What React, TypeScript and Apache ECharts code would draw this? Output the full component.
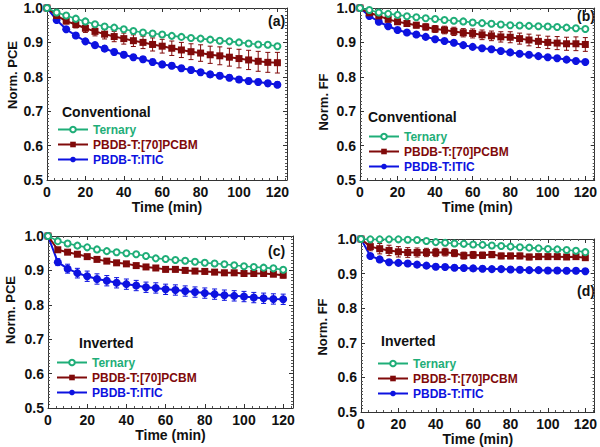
import React, { useEffect, useRef } from "react";
import * as echarts from "echarts";

const times = [0, 5, 10, 15, 20, 25, 30, 35, 40, 45, 50, 55, 60, 65, 70, 75, 80, 85, 90, 95, 100, 105, 110, 115, 120];

// (a) Conventional, Norm. PCE
const aTernary = [1.0, 0.987, 0.978, 0.969, 0.961, 0.953, 0.946, 0.943, 0.938, 0.933, 0.929, 0.926, 0.923, 0.919, 0.916, 0.913, 0.911, 0.908, 0.905, 0.903, 0.9, 0.897, 0.894, 0.893, 0.889];
const aPcbm = [1.0, 0.978, 0.962, 0.952, 0.941, 0.932, 0.924, 0.917, 0.911, 0.905, 0.9, 0.894, 0.889, 0.883, 0.878, 0.873, 0.869, 0.864, 0.861, 0.857, 0.853, 0.849, 0.845, 0.842, 0.841];
const aPcbmErr = [0, 0.005, 0.008, 0.01, 0.012, 0.013, 0.014, 0.015, 0.016, 0.017, 0.018, 0.019, 0.02, 0.021, 0.022, 0.023, 0.024, 0.025, 0.026, 0.026, 0.027, 0.028, 0.029, 0.029, 0.03];
const aItic = [1.0, 0.965, 0.938, 0.92, 0.903, 0.892, 0.882, 0.872, 0.864, 0.857, 0.851, 0.843, 0.836, 0.832, 0.825, 0.82, 0.813, 0.807, 0.803, 0.797, 0.792, 0.788, 0.785, 0.781, 0.777];
const aIticErr = [0, 0.005, 0.006, 0.007, 0.007, 0.008, 0.008, 0.008, 0.008, 0.008, 0.008, 0.008, 0.008, 0.008, 0.008, 0.008, 0.008, 0.008, 0.008, 0.008, 0.008, 0.008, 0.008, 0.008, 0.008];

// (b) Conventional, Norm. FF
const bTernary = [1.0, 0.994, 0.987, 0.983, 0.98, 0.976, 0.973, 0.97, 0.968, 0.965, 0.963, 0.961, 0.958, 0.956, 0.954, 0.952, 0.95, 0.949, 0.948, 0.947, 0.946, 0.945, 0.943, 0.941, 0.939];
const bPcbm = [1.0, 0.986, 0.977, 0.967, 0.96, 0.955, 0.95, 0.945, 0.939, 0.936, 0.932, 0.928, 0.926, 0.922, 0.919, 0.916, 0.915, 0.911, 0.907, 0.903, 0.9, 0.898, 0.896, 0.896, 0.894];
const bPcbmErr = [0, 0.003, 0.004, 0.005, 0.006, 0.007, 0.008, 0.009, 0.01, 0.011, 0.012, 0.012, 0.013, 0.014, 0.014, 0.015, 0.016, 0.016, 0.017, 0.018, 0.018, 0.019, 0.019, 0.02, 0.02];
const bItic = [1.0, 0.977, 0.96, 0.947, 0.936, 0.929, 0.923, 0.916, 0.909, 0.904, 0.899, 0.892, 0.887, 0.883, 0.88, 0.875, 0.871, 0.867, 0.864, 0.86, 0.857, 0.854, 0.85, 0.846, 0.843];
const bIticErr = [0, 0.003, 0.003, 0.003, 0.003, 0.003, 0.003, 0.003, 0.003, 0.003, 0.003, 0.003, 0.003, 0.003, 0.003, 0.003, 0.003, 0.003, 0.003, 0.003, 0.003, 0.003, 0.003, 0.003, 0.003];

// (c) Inverted, Norm. PCE
const cTernary = [1.0, 0.985, 0.978, 0.972, 0.967, 0.961, 0.956, 0.953, 0.95, 0.947, 0.942, 0.935, 0.933, 0.93, 0.928, 0.925, 0.922, 0.92, 0.918, 0.915, 0.912, 0.91, 0.908, 0.906, 0.902];
const cPcbm = [1.0, 0.96, 0.953, 0.947, 0.94, 0.932, 0.927, 0.922, 0.919, 0.914, 0.91, 0.907, 0.903, 0.903, 0.9, 0.898, 0.897, 0.895, 0.893, 0.893, 0.891, 0.891, 0.891, 0.889, 0.886];
const cPcbmErr = [0, 0.005, 0.005, 0.006, 0.006, 0.006, 0.006, 0.006, 0.006, 0.006, 0.007, 0.007, 0.007, 0.007, 0.007, 0.007, 0.007, 0.007, 0.007, 0.007, 0.007, 0.007, 0.007, 0.007, 0.008];
const cItic = [1.0, 0.924, 0.905, 0.892, 0.883, 0.875, 0.87, 0.864, 0.86, 0.856, 0.851, 0.849, 0.845, 0.843, 0.84, 0.837, 0.834, 0.831, 0.828, 0.826, 0.824, 0.821, 0.819, 0.817, 0.816];
const cIticErr = [0, 0.01, 0.013, 0.014, 0.015, 0.015, 0.015, 0.015, 0.015, 0.015, 0.015, 0.015, 0.015, 0.015, 0.015, 0.015, 0.015, 0.015, 0.015, 0.015, 0.015, 0.015, 0.015, 0.015, 0.015];

// (d) Inverted, Norm. FF
const dTernary = [1.0, 0.999, 0.999, 0.999, 0.999, 0.998, 0.997, 0.994, 0.991, 0.989, 0.987, 0.986, 0.984, 0.983, 0.981, 0.98, 0.978, 0.976, 0.975, 0.973, 0.971, 0.97, 0.968, 0.966, 0.962];
const dPcbm = [1.0, 0.978, 0.972, 0.967, 0.963, 0.961, 0.961, 0.961, 0.961, 0.962, 0.959, 0.952, 0.954, 0.953, 0.955, 0.951, 0.951, 0.951, 0.948, 0.949, 0.949, 0.949, 0.948, 0.949, 0.946];
const dPcbmErr = [0, 0.012, 0.015, 0.015, 0.015, 0.014, 0.013, 0.012, 0.012, 0.011, 0.01, 0.01, 0.01, 0.009, 0.009, 0.008, 0.008, 0.008, 0.008, 0.007, 0.007, 0.007, 0.007, 0.007, 0.007];
const dItic = [1.0, 0.951, 0.941, 0.933, 0.931, 0.929, 0.926, 0.923, 0.92, 0.919, 0.917, 0.916, 0.915, 0.914, 0.913, 0.913, 0.912, 0.911, 0.91, 0.91, 0.909, 0.909, 0.908, 0.908, 0.907];
const dIticErr = [0, 0.006, 0.007, 0.007, 0.007, 0.007, 0.007, 0.007, 0.007, 0.007, 0.007, 0.007, 0.007, 0.007, 0.007, 0.007, 0.007, 0.007, 0.007, 0.007, 0.007, 0.007, 0.007, 0.007, 0.007];

const yTicks = [0.5, 0.6, 0.7, 0.8, 0.9, 1.0];
const xTicks = [0, 20, 40, 60, 80, 100, 120];

const seriesNames = ["Ternary", "PBDB-T:[70]PCBM", "PBDB-T:ITIC"];
const colors = ["#1fae78", "#800a0a", "#0d12e0"];

const FONT = "'Liberation Sans', Arial, sans-serif";

const panels = [
  { tag: "(a)", yName: "Norm. PCE", group: "Conventional", ter: aTernary, pcbm: aPcbm, pErr: aPcbmErr, itic: aItic, iErr: aIticErr,
    grid: { left: 47, top: 8, width: 240, height: 172 },
    tagPos: [268, 22], yNamePos: [12, 75], groupPos: [62, 113], legendPos: [57, 123] },
  { tag: "(b)", yName: "Norm. FF", group: "Conventional", ter: bTernary, pcbm: bPcbm, pErr: bPcbmErr, itic: bItic, iErr: bIticErr,
    grid: { left: 360, top: 8, width: 236, height: 172 },
    tagPos: [577, 17], yNamePos: [323, 102], groupPos: [368, 118], legendPos: [368, 130] },
  { tag: "(c)", yName: "Norm. PCE", group: "Inverted", ter: cTernary, pcbm: cPcbm, pErr: cPcbmErr, itic: cItic, iErr: cIticErr,
    grid: { left: 48, top: 236, width: 245, height: 172 },
    tagPos: [268, 252], yNamePos: [10, 310], groupPos: [79, 344], legendPos: [56, 356] },
  { tag: "(d)", yName: "Norm. FF", group: "Inverted", ter: dTernary, pcbm: dPcbm, pErr: dPcbmErr, itic: dItic, iErr: dIticErr,
    grid: { left: 361, top: 239, width: 236, height: 173 },
    tagPos: [577, 292], yNamePos: [322, 327], groupPos: [381, 342], legendPos: [377, 357] },
];

function buildOption() {
  const grid: any[] = [];
  const xAxis: any[] = [];
  const yAxis: any[] = [];
  const series: any[] = [];
  const legend: any[] = [];
  const graphic: any[] = [];

  const frameColor = "#333";

  panels.forEach((p, g) => {
    grid.push({ ...p.grid, show: false, containLabel: false });
    xAxis.push({
      type: "value", gridIndex: g, min: 0, max: 125, interval: 20, position: "bottom",
      name: "Time (min)", nameLocation: "middle", nameGap: 20,
      nameTextStyle: { fontFamily: FONT, fontWeight: "bold", fontSize: 14, color: "#111" },
      axisLine: { show: true, onZero: false, lineStyle: { color: frameColor, width: 1 } },
      axisTick: { show: true, inside: true, length: 4, lineStyle: { color: frameColor } },
      minorTick: { show: true, splitNumber: 5, length: 2, lineStyle: { color: "#555" } },
      splitLine: { show: false },
      axisLabel: { show: true, margin: 5, fontFamily: FONT, fontWeight: "bold", fontSize: 14, color: "#111",
        formatter: (v: number) => (xTicks.includes(v) ? String(v) : "") },
    });
    xAxis.push({
      type: "value", gridIndex: g, min: 0, max: 125, interval: 20, position: "top",
      axisLine: { show: true, onZero: false, lineStyle: { color: frameColor, width: 1 } },
      axisTick: { show: true, inside: true, length: 4, lineStyle: { color: frameColor } },
      minorTick: { show: true, splitNumber: 5, length: 2, lineStyle: { color: "#555" } },
      splitLine: { show: false },
      axisLabel: { show: false },
    });
    yAxis.push({
      type: "value", gridIndex: g, min: 0.5, max: 1.0, interval: 0.1, position: "left",
      axisLine: { show: true, onZero: false, lineStyle: { color: frameColor, width: 1 } },
      axisTick: { show: true, inside: true, length: 4, lineStyle: { color: frameColor } },
      minorTick: { show: true, splitNumber: 10, length: 2, lineStyle: { color: "#555" } },
      splitLine: { show: false },
      axisLabel: { show: true, margin: 4, fontFamily: FONT, fontWeight: "bold", fontSize: 14, color: "#111",
        formatter: (v: number) => {
          const t = yTicks.find((k) => Math.abs(k - v) < 1e-6);
          return t === undefined ? "" : t.toFixed(1);
        } },
    });
    yAxis.push({
      type: "value", gridIndex: g, min: 0.5, max: 1.0, interval: 0.1, position: "right",
      axisLine: { show: true, onZero: false, lineStyle: { color: frameColor, width: 1 } },
      axisTick: { show: true, inside: true, length: 4, lineStyle: { color: frameColor } },
      minorTick: { show: true, splitNumber: 10, length: 2, lineStyle: { color: "#555" } },
      splitLine: { show: false },
      axisLabel: { show: false },
    });

    const xi = 2 * g;
    const yi = 2 * g;

    const makeErr = (vals: number[], errs: number[], color: string, id: string) => ({
      type: "custom", name: id, xAxisIndex: xi, yAxisIndex: yi, z: 2,
      data: times.map((t, i) => [t, vals[i], errs[i]]),
      encode: { x: 0, y: 1 },
      renderItem: (params: any, api: any) => {
        const x = api.value(0);
        const y = api.value(1);
        const e = api.value(2);
        if (!e) return null;
        const top = api.coord([x, y + e]);
        const bot = api.coord([x, y - e]);
        const hw = 2.5;
        const style = { stroke: color, lineWidth: 1 };
        return {
          type: "group",
          children: [
            { type: "line", shape: { x1: top[0], y1: top[1], x2: bot[0], y2: bot[1] }, style },
            { type: "line", shape: { x1: top[0] - hw, y1: top[1], x2: top[0] + hw, y2: top[1] }, style },
            { type: "line", shape: { x1: bot[0] - hw, y1: bot[1], x2: bot[0] + hw, y2: bot[1] }, style },
          ],
        };
      },
    });

    series.push(makeErr(p.pcbm, p.pErr, colors[1], `err-pcbm-${g}`));
    series.push(makeErr(p.itic, p.iErr, colors[2], `err-itic-${g}`));

    series.push({
      type: "line", name: seriesNames[0], xAxisIndex: xi, yAxisIndex: yi, z: 5,
      data: times.map((t, i) => [t, p.ter[i]]),
      symbol: "emptyCircle", symbolSize: 6,
      lineStyle: { color: colors[0], width: 1.6 },
      itemStyle: { color: colors[0], borderWidth: 1.4 },
    });
    series.push({
      type: "line", name: seriesNames[1], xAxisIndex: xi, yAxisIndex: yi, z: 4,
      data: times.map((t, i) => [t, p.pcbm[i]]),
      symbol: "rect", symbolSize: 7,
      lineStyle: { color: colors[1], width: 2 },
      itemStyle: { color: colors[1] },
    });
    series.push({
      type: "line", name: seriesNames[2], xAxisIndex: xi, yAxisIndex: yi, z: 3,
      data: times.map((t, i) => [t, p.itic[i]]),
      symbol: "circle", symbolSize: 8,
      lineStyle: { color: colors[2], width: 2 },
      itemStyle: { color: colors[2] },
    });

    legend.push({
      orient: "vertical", left: p.legendPos[0], top: p.legendPos[1],
      itemWidth: 30, itemHeight: 7, itemGap: 2, padding: 0, selectedMode: false,
      textStyle: { fontFamily: FONT, fontWeight: "bold", fontSize: 12, lineHeight: 13 },
      data: seriesNames.map((n, k) => ({ name: n, textStyle: { color: colors[k] } })),
    });

    graphic.push({
      type: "text", left: p.tagPos[0], top: p.tagPos[1] - 8,
      style: { text: p.tag, fontFamily: FONT, fontWeight: "bold", fontSize: 14, fill: "#111" },
    });
    graphic.push({
      type: "text", left: p.groupPos[0], top: p.groupPos[1] - 8,
      style: { text: p.group, fontFamily: FONT, fontWeight: "bold", fontSize: 14, fill: "#111" },
    });
    graphic.push({
      type: "text", x: p.yNamePos[0], y: p.yNamePos[1], rotation: Math.PI / 2,
      style: { text: p.yName, fontFamily: FONT, fontWeight: "bold", fontSize: 13, fill: "#111",
        align: "center", verticalAlign: "middle" },
    });
  });

  return { animation: false, backgroundColor: "#fff", grid, xAxis, yAxis, series, legend, graphic };
}

export default function App() {
  const ref = useRef<HTMLDivElement>(null);
  useEffect(() => {
    if (!ref.current) return;
    const chart = echarts.init(ref.current, undefined, { renderer: "svg" });
    chart.setOption(buildOption() as any);
    return () => chart.dispose();
  }, []);
  return <div ref={ref} style={{ width: 600, height: 447, position: "absolute", left: 0, top: 0 }} />;
}
